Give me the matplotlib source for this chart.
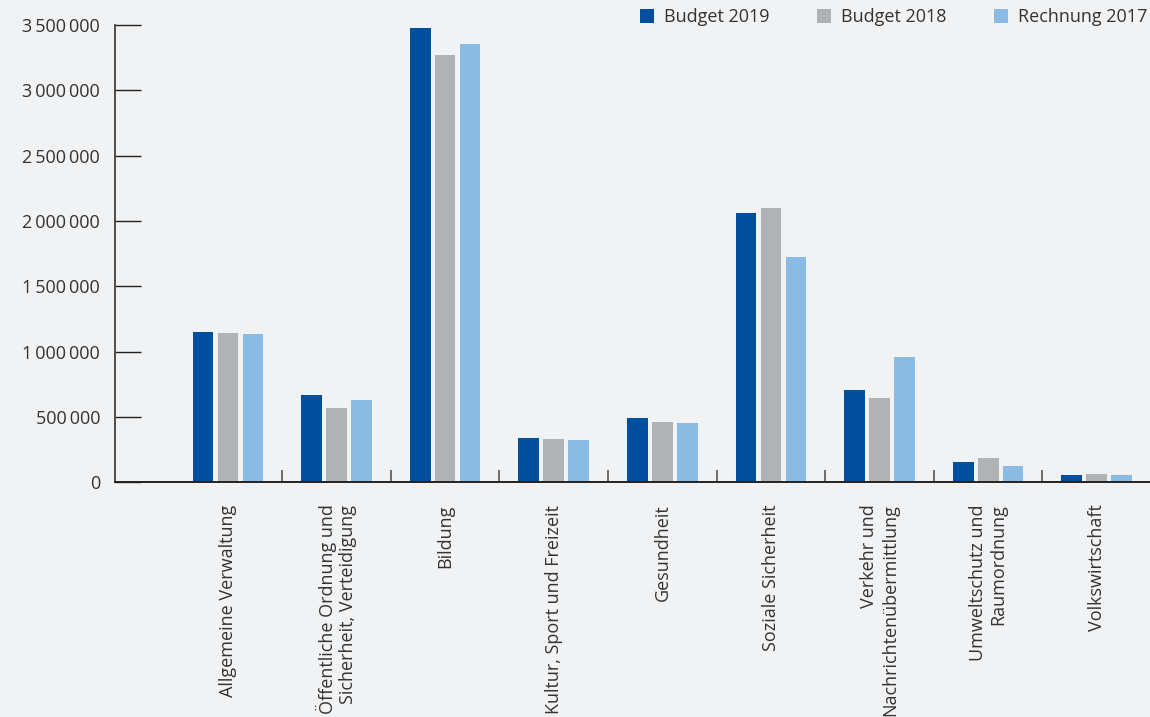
import matplotlib.pyplot as plt
from matplotlib.lines import Line2D
from matplotlib.ticker import FuncFormatter, FixedLocator
import numpy as np

plt.rcParams['font.family'] = ['Open Sans', 'DejaVu Sans']

categories = [
    'Allgemeine Verwaltung',
    'Öffentliche Ordnung und\nSicherheit, Verteidigung',
    'Bildung',
    'Kultur, Sport und Freizeit',
    'Gesundheit',
    'Soziale Sicherheit',
    'Verkehr und\nNachrichtenübermittlung',
    'Umweltschutz und\nRaumordnung',
    'Volkswirtschaft',
]

budget_2019 = [1150000, 668000, 3477000, 336000, 489000, 2061000, 706000, 155000, 53000]
budget_2018 = [1143000, 569000, 3271000, 329000, 458000, 2099000, 645000, 183000, 61000]
rechnung_2017 = [1135000, 630000, 3355000, 321000, 451000, 1724000, 959000, 122000, 53000]

series_names = ['Budget 2019', 'Budget 2018', 'Rechnung 2017']
colors = ['#004f9f', '#b1b2b4', '#8abbe5']
bg = '#f1f2f4'
text_col = '#333333'

fig = plt.figure(figsize=(11.5, 7.17), dpi=100, facecolor=bg)
ax = fig.add_axes([0.1004, 0.3273, 0.8996, 0.6378], facecolor=bg)

x = np.arange(len(categories))
step = 0.23
width = 0.19
for k, (vals, col) in enumerate(zip([budget_2019, budget_2018, rechnung_2017], colors)):
    ax.bar(x + (k - 1) * step, vals, width=width, color=col, linewidth=0)

ax.set_xlim(-1.036, 8.49)
ax.set_ylim(0, 3500000)

ax.set_yticks(np.arange(0, 3500001, 500000))
ax.yaxis.set_major_formatter(FuncFormatter(lambda v, p: f'{int(v):,}'.replace(',', '\u2009')))
ax.tick_params(axis='y', direction='in', length=18.5, width=1, color='#222222',
               pad=11, labelsize=13, labelcolor=text_col)

ax.set_xticks(x)
ax.set_xticklabels(categories, rotation=90, fontsize=13, color=text_col)
for t in ax.get_xticklabels():
    t.set_multialignment('right')
ax.tick_params(axis='x', which='major', length=0, pad=16)
# small separators between the category groups
ax.xaxis.set_minor_locator(FixedLocator(np.arange(0.5, 8, 1.0)))
ax.tick_params(axis='x', which='minor', direction='in', length=8.5, width=1.2, color='#555555')

for s in ['top', 'right']:
    ax.spines[s].set_visible(False)
ax.spines['left'].set_color('#333333')
ax.spines['left'].set_linewidth(1.2)
ax.spines['bottom'].set_color('#222222')
ax.spines['bottom'].set_linewidth(1.4)

handles = [Line2D([], [], marker='s', linestyle='none', markersize=9.5,
                  markerfacecolor=c, markeredgewidth=0) for c in colors]
leg = fig.legend(handles, series_names, loc='center right', ncol=3,
                 bbox_to_anchor=(1.004, 1 - 17 / 717), frameon=False,
                 fontsize=13, handlelength=0.8, handletextpad=0.55,
                 columnspacing=2.6, borderaxespad=0)
for t in leg.get_texts():
    t.set_color(text_col)

fig.savefig('out.png', dpi=100, facecolor=bg)
